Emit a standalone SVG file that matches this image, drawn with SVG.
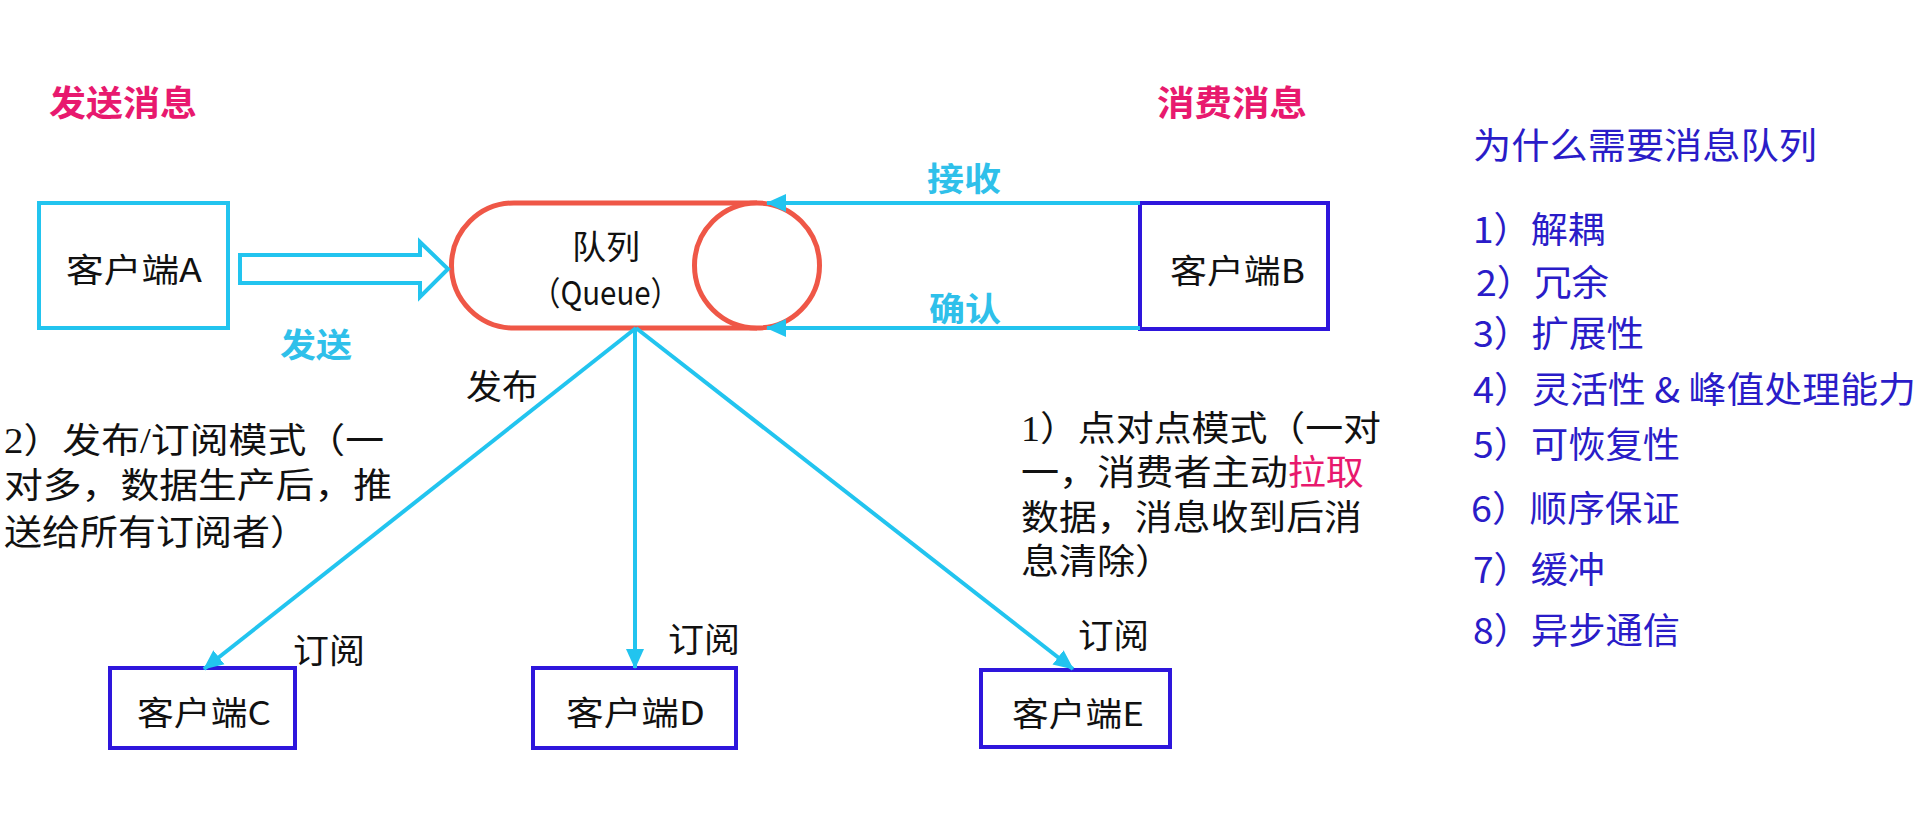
<svg xmlns="http://www.w3.org/2000/svg" width="1917" height="832" viewBox="0 0 1917 832">
<style>
  .cj { font-family: "Noto Sans CJK SC", "Noto Sans", sans-serif; }
  .sr { font-family: "Liberation Serif", "Noto Sans CJK SC", serif; fill: #111; font-size: 35px; }
  .title { font-size: 35px; font-weight: bold; fill: #e8196e; }
  .lbl { font-size: 33px; font-weight: bold; fill: #2fc0ea; }
  .thin { font-size: 34px; fill: #111; }
  .node { font-size: 33px; fill: #111; }
  .list { font-size: 36px; fill: #2a1cc8; }
  .boxc { fill: #fff; stroke: #22c4ef; stroke-width: 4; }
  .boxb { fill: #fff; stroke: #2e16dc; stroke-width: 4; }
  .conn { fill: none; stroke: #22c4ef; stroke-width: 4; }
  .q { fill: #fff; stroke: #ef5747; stroke-width: 5; }
</style>
<defs>
  <marker id="ah" viewBox="0 0 20 20" refX="19" refY="10" markerWidth="20" markerHeight="20" markerUnits="userSpaceOnUse" orient="auto">
    <path d="M0,1 L20,10 L0,19 z" fill="#22c4ef"/>
  </marker>
</defs>
<rect x="0" y="0" width="1917" height="832" fill="#fff"/>

<g id="headings">
  <text class="cj title" x="49" y="116" textLength="148" lengthAdjust="spacingAndGlyphs">发送消息</text>
  <text class="cj title" x="1157" y="116" textLength="150" lengthAdjust="spacingAndGlyphs">消费消息</text>
</g>

<g id="queue">
  <path class="q" d="M514,203 L757,203 M514,328 L757,328 M514,203 A62.5,62.5 0 0 0 514,328"/>
  <circle class="q" cx="757" cy="265.5" r="62.5"/>
  <text class="cj node" x="572" y="259" textLength="68" lengthAdjust="spacingAndGlyphs">队列</text>
  <text class="cj node" x="531" y="305" textLength="149" lengthAdjust="spacingAndGlyphs">（Queue）</text>
</g>

<g id="clientA">
  <rect class="boxc" x="39" y="203" width="189" height="125"/>
  <text class="cj node" x="66" y="282" textLength="136" lengthAdjust="spacingAndGlyphs">客户端A</text>
</g>

<g id="clientB">
  <rect class="boxb" x="1140" y="203" width="188" height="126"/>
  <text class="cj node" x="1170" y="283" textLength="135" lengthAdjust="spacingAndGlyphs">客户端B</text>
</g>

<g id="clientC">
  <rect class="boxb" x="110" y="668" width="185" height="80"/>
  <text class="cj node" x="137" y="725" textLength="134" lengthAdjust="spacingAndGlyphs">客户端C</text>
</g>

<g id="clientD">
  <rect class="boxb" x="533" y="668" width="203" height="80"/>
  <text class="cj node" x="566" y="725" textLength="139" lengthAdjust="spacingAndGlyphs">客户端D</text>
</g>

<g id="clientE">
  <rect class="boxb" x="981" y="670" width="189" height="77"/>
  <text class="cj node" x="1012" y="726" textLength="132" lengthAdjust="spacingAndGlyphs">客户端E</text>
</g>

<g id="connectors">
  <path class="boxc" d="M240,255 L420,255 L420,242 L448,269 L420,297 L420,283 L240,283 Z"/>
  <line class="conn" x1="1140" y1="203" x2="767" y2="203" marker-end="url(#ah)"/>
  <line class="conn" x1="1140" y1="328" x2="767" y2="328" marker-end="url(#ah)"/>
  <line class="conn" x1="636" y1="328" x2="204" y2="669" marker-end="url(#ah)"/>
  <line class="conn" x1="635" y1="328" x2="635" y2="668" marker-end="url(#ah)"/>
  <line class="conn" x1="636" y1="328" x2="1073" y2="669" marker-end="url(#ah)"/>
</g>

<g id="connector-labels">
  <text class="cj lbl" x="280" y="357" textLength="72" lengthAdjust="spacingAndGlyphs">发送</text>
  <text class="cj lbl" x="927" y="191" textLength="74" lengthAdjust="spacingAndGlyphs">接收</text>
  <text class="cj lbl" x="929" y="321" textLength="72" lengthAdjust="spacingAndGlyphs">确认</text>
  <text class="cj thin" x="466" y="399" textLength="72" lengthAdjust="spacingAndGlyphs">发布</text>
  <text class="cj thin" x="293" y="663" textLength="72" lengthAdjust="spacingAndGlyphs">订阅</text>
  <text class="cj thin" x="668" y="652" textLength="72" lengthAdjust="spacingAndGlyphs">订阅</text>
  <text class="cj thin" x="1078" y="648" textLength="71" lengthAdjust="spacingAndGlyphs">订阅</text>
</g>

<g id="note-pubsub">
  <text class="sr" x="4" y="453" textLength="380" lengthAdjust="spacingAndGlyphs">2）发布/订阅模式（一</text>
  <text class="sr" x="4" y="498" textLength="388" lengthAdjust="spacingAndGlyphs">对多，数据生产后，推</text>
  <text class="sr" x="4" y="545" textLength="304" lengthAdjust="spacingAndGlyphs">送给所有订阅者）</text>
</g>

<g id="note-p2p">
  <text class="sr" x="1021" y="441" textLength="360" lengthAdjust="spacingAndGlyphs">1）点对点模式（一对</text>
  <text class="sr" x="1021" y="485" textLength="343" lengthAdjust="spacingAndGlyphs">一，消费者主动<tspan fill="#e8196e">拉取</tspan></text>
  <text class="sr" x="1021" y="530" textLength="341" lengthAdjust="spacingAndGlyphs">数据，消息收到后消</text>
  <text class="sr" x="1021" y="574" textLength="152" lengthAdjust="spacingAndGlyphs">息清除）</text>
</g>

<g id="why-list">
  <text class="cj list" x="1473" y="159" textLength="344" lengthAdjust="spacingAndGlyphs">为什么需要消息队列</text>
  <text class="cj list" x="1473" y="243" textLength="132" lengthAdjust="spacingAndGlyphs">1）解耦</text>
  <text class="cj list" x="1476" y="296" textLength="133" lengthAdjust="spacingAndGlyphs">2）冗余</text>
  <text class="cj list" x="1473" y="347" textLength="171" lengthAdjust="spacingAndGlyphs">3）扩展性</text>
  <text class="cj list" x="1473" y="403" textLength="443" lengthAdjust="spacingAndGlyphs">4）灵活性 &amp; 峰值处理能力</text>
  <text class="cj list" x="1473" y="458" textLength="207" lengthAdjust="spacingAndGlyphs">5）可恢复性</text>
  <text class="cj list" x="1471" y="522" textLength="209" lengthAdjust="spacingAndGlyphs">6）顺序保证</text>
  <text class="cj list" x="1473" y="583" textLength="132" lengthAdjust="spacingAndGlyphs">7）缓冲</text>
  <text class="cj list" x="1473" y="644" textLength="207" lengthAdjust="spacingAndGlyphs">8）异步通信</text>
</g>
</svg>
